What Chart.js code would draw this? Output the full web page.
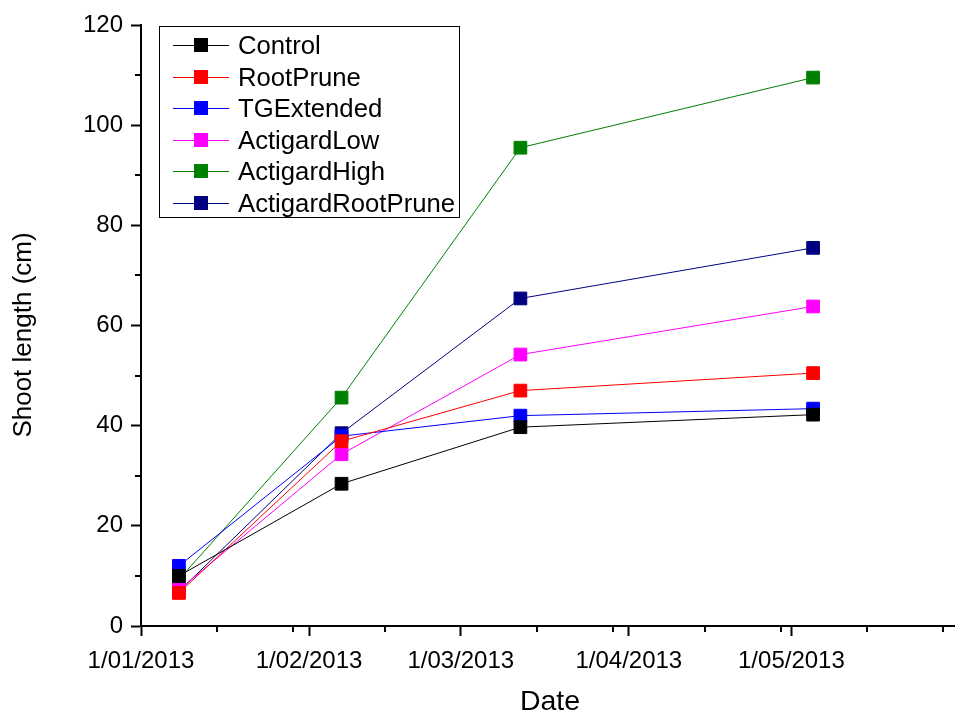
<!DOCTYPE html>
<html>
<head>
<meta charset="utf-8">
<script src="https://cdn.jsdelivr.net/npm/chart.js@4"></script>
<style>
  html, body { margin: 0; padding: 0; background: #fff; }
  #wrap { width: 955px; height: 715px; }
</style>
</head>
<body>
<div id="wrap"><canvas id="myChart" width="955" height="715"></canvas></div>
<script>
// sampling dates, as days since 1 Jan 2013 (8 Jan, 7 Feb, 12 Mar, 5 May)
const sampleDays = [7, 37, 70, 124];

const control           = [10.0, 28.4, 39.7, 42.2];
const rootPrune         = [6.6, 36.9, 47.0, 50.5];
const tgExtended        = [12.0, 37.9, 42.0, 43.4];
const actigardLow       = [7.2, 34.3, 54.2, 63.8];
const actigardHigh      = [9.3, 45.6, 95.5, 109.5];
const actigardRootPrune = [6.9, 38.5, 65.4, 75.5];

// axis ticks
const monthDays   = [0, 31, 59, 90, 120];
const monthLabels = ['1/01/2013', '1/02/2013', '1/03/2013', '1/04/2013', '1/05/2013'];
const minorDays   = [14, 28, 45, 73, 87, 104, 118, 134, 148];
const yMinor      = [10, 30, 50, 70, 90, 110];

const FONT = 'Arial, "Liberation Sans", sans-serif';

function series(label, values, color) {
  return {
    label,
    data: values.map((v, i) => ({ x: sampleDays[i], y: v })),
    borderColor: color,
    backgroundColor: color,
    borderWidth: 1,
    pointStyle: 'rect',
    pointRadius: 9,
    pointBorderWidth: 1,
    pointHoverRadius: 9,
    tension: 0,
  };
}

/** Minor ticks, axis titles and boxed legend with line-and-square symbols. */
const extras = {
  id: 'extras',
  afterDraw(chart) {
    const ctx = chart.ctx;
    const { x, y } = chart.scales;
    const area = chart.chartArea;
    ctx.save();
    ctx.strokeStyle = '#000';
    ctx.lineWidth = 2;
    ctx.beginPath();
    minorDays.forEach(d => {
      const px = Math.round(x.getPixelForValue(d));
      ctx.moveTo(px, area.bottom);
      ctx.lineTo(px, area.bottom + 6);
    });
    yMinor.forEach(v => {
      const py = Math.round(y.getPixelForValue(v));
      ctx.moveTo(area.left, py);
      ctx.lineTo(area.left - 6, py);
    });
    ctx.stroke();

    // axis titles
    ctx.fillStyle = '#000';
    ctx.textAlign = 'center';
    ctx.textBaseline = 'middle';
    ctx.font = '28.5px ' + FONT;
    ctx.fillText('Date', 550, 702);
    ctx.save();
    ctx.translate(24, 335);
    ctx.rotate(-Math.PI / 2);
    ctx.font = '26px ' + FONT;
    ctx.fillText('Shoot length (cm)', 0, 0);
    ctx.restore();

    // legend
    ctx.lineWidth = 1;
    ctx.strokeRect(159.5, 26.5, 300, 191);
    ctx.font = '25.7px ' + FONT;
    ctx.textAlign = 'left';
    chart.data.datasets.forEach((ds, i) => {
      const cy = Math.round(45 + i * 31.5) + 0.5;
      ctx.strokeStyle = ds.borderColor;
      ctx.beginPath();
      ctx.moveTo(173, cy);
      ctx.lineTo(229, cy);
      ctx.stroke();
      ctx.fillStyle = ds.backgroundColor;
      ctx.fillRect(194, cy - 7.5, 14, 14);
      ctx.fillStyle = '#000';
      ctx.fillText(ds.label, 238, cy + 1);
    });
    ctx.restore();
  }
};

new Chart(document.getElementById('myChart'), {
  type: 'line',
  data: {
    datasets: [
      series('Control', control, '#000000'),
      series('RootPrune', rootPrune, '#FF0000'),
      series('TGExtended', tgExtended, '#0000FF'),
      series('ActigardLow', actigardLow, '#FF00FF'),
      series('ActigardHigh', actigardHigh, '#008000'),
      series('ActigardRootPrune', actigardRootPrune, '#000080'),
    ],
  },
  options: {
    responsive: false,
    animation: false,
    layout: { autoPadding: false, padding: { top: 25, right: 1, left: 0, bottom: 0 } },
    plugins: { legend: { display: false }, tooltip: { enabled: false } },
    scales: {
      x: {
        type: 'linear',
        min: 0,
        max: 150,
        afterBuildTicks: s => { s.ticks = monthDays.map(v => ({ value: v })); },
        afterFit: s => { s.height = 89; },
        grid: { drawOnChartArea: false, drawTicks: true, tickLength: 10, tickWidth: 2, tickColor: '#000' },
        border: { color: '#000', width: 2 },
        ticks: {
          color: '#000',
          font: { family: FONT, size: 24 },
          padding: 11,
          maxRotation: 0,
          autoSkip: false,
          callback: v => monthLabels[monthDays.indexOf(v)],
        },
      },
      y: {
        min: 0,
        max: 120,
        afterFit: s => { s.width = 141; },
        grid: { drawOnChartArea: false, drawTicks: true, tickLength: 10, tickWidth: 2, tickColor: '#000' },
        border: { color: '#000', width: 2 },
        ticks: { stepSize: 20, color: '#000', font: { family: FONT, size: 24 }, padding: 8 },
      },
    },
  },
  plugins: [extras],
});
</script>
</body>
</html>
